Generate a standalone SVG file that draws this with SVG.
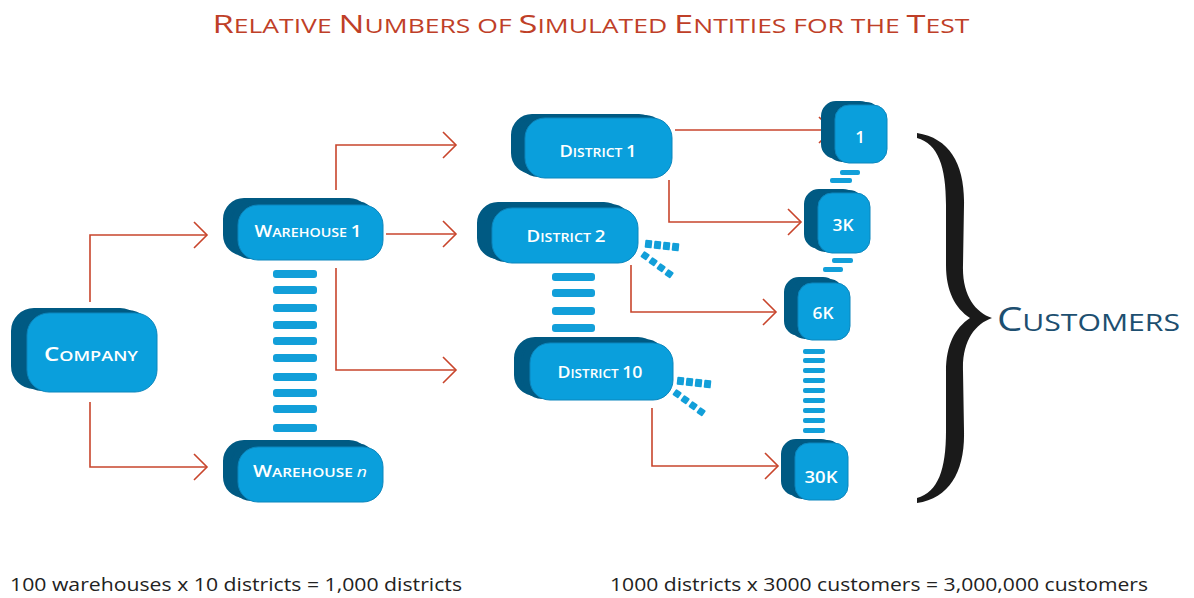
<svg xmlns="http://www.w3.org/2000/svg" width="1194" height="598" viewBox="0 0 1194 598">
<style>
.bk{fill:#005a83;stroke:#005a83;stroke-width:2}
.fr{fill:#0a9fdc;stroke:#0b86bd;stroke-width:1}
.bar{fill:#129fd9}
.lbl{font-family:"Open Sans","DejaVu Sans",sans-serif;font-weight:600;fill:#ffffff;text-anchor:middle}
.con{fill:none;stroke:#c8452c;stroke-width:1.6}
.title{font-family:"Open Sans","DejaVu Sans",sans-serif;fill:#bf3f28;font-weight:500}
.foot{font-family:"Open Sans","DejaVu Sans",sans-serif;font-size:18px;fill:#222222}
</style>
<defs>
<marker id="arr" markerWidth="16" markerHeight="30" refX="14" refY="15" orient="auto" markerUnits="userSpaceOnUse">
<path d="M1,2 L14,15 L1,28" fill="none" stroke="#c8452c" stroke-width="1.6"/>
</marker>
</defs>
<rect width="1194" height="598" fill="#ffffff"/>

<text class="title" x="591" y="33" text-anchor="middle" textLength="757" lengthAdjust="spacingAndGlyphs"><tspan font-size="26">R</tspan><tspan font-size="20">ELATIVE </tspan><tspan font-size="26">N</tspan><tspan font-size="20">UMBERS OF </tspan><tspan font-size="26">S</tspan><tspan font-size="20">IMULATED </tspan><tspan font-size="26">E</tspan><tspan font-size="20">NTITIES FOR THE </tspan><tspan font-size="26">T</tspan><tspan font-size="20">EST</tspan></text>

<g id="connectors">
<path class="con" marker-end="url(#arr)" d="M90,302 V235 H207"/>
<path class="con" marker-end="url(#arr)" d="M90,402 V467 H207"/>
<path class="con" marker-end="url(#arr)" d="M336,190 V145 H456"/>
<path class="con" marker-end="url(#arr)" d="M386,234 H456"/>
<path class="con" marker-end="url(#arr)" d="M336,268 V370 H456"/>
<path class="con" marker-end="url(#arr)" d="M675,130 H832"/>
<path class="con" marker-end="url(#arr)" d="M669,180 V222 H801"/>
<path class="con" marker-end="url(#arr)" d="M631,265 V312 H776"/>
<path class="con" marker-end="url(#arr)" d="M652,408 V466 H778"/>
</g>

<g id="company">
<rect class="bk" x="12" y="309" width="130" height="79" rx="22"/>
<rect class="bk" x="20" y="311" width="130" height="79" rx="22"/>
<rect class="fr" x="27" y="313" width="130" height="79" rx="22"/>
<text class="lbl" x="91" y="361" textLength="94" lengthAdjust="spacingAndGlyphs"><tspan font-size="20">C</tspan><tspan font-size="15">OMPANY</tspan></text>
</g>

<g id="warehouse1">
<rect class="bk" x="224" y="199" width="145" height="56" rx="20"/>
<rect class="bk" x="231" y="202" width="145" height="56" rx="20"/>
<rect class="fr" x="238" y="205" width="145" height="55" rx="20"/>
<text class="lbl" x="308" y="237" textLength="107" lengthAdjust="spacingAndGlyphs"><tspan font-size="17">W</tspan><tspan font-size="13">AREHOUSE </tspan><tspan font-size="17">1</tspan></text>
</g>

<g id="warehouse-bars">
<rect class="bar" x="273" y="270" width="44" height="8" rx="3"/>
<rect class="bar" x="273" y="286" width="44" height="8" rx="3"/>
<rect class="bar" x="273" y="304" width="44" height="8" rx="3"/>
<rect class="bar" x="273" y="321" width="44" height="8" rx="3"/>
<rect class="bar" x="273" y="337" width="44" height="8" rx="3"/>
<rect class="bar" x="273" y="354" width="44" height="8" rx="3"/>
<rect class="bar" x="273" y="373" width="44" height="8" rx="3"/>
<rect class="bar" x="273" y="389" width="44" height="8" rx="3"/>
<rect class="bar" x="273" y="405" width="44" height="8" rx="3"/>
<rect class="bar" x="273" y="424" width="44" height="8" rx="3"/>
</g>

<g id="warehouseN">
<rect class="bk" x="224" y="441" width="145" height="56" rx="20"/>
<rect class="bk" x="231" y="444" width="145" height="56" rx="20"/>
<rect class="fr" x="238" y="447" width="145" height="55" rx="20"/>
<text class="lbl" x="310" y="477" textLength="114" lengthAdjust="spacingAndGlyphs"><tspan font-size="17">W</tspan><tspan font-size="13">AREHOUSE </tspan><tspan font-size="15" font-style="italic" font-weight="400">n</tspan></text>
</g>

<g id="district1">
<rect class="bk" x="512" y="115" width="147" height="58" rx="20"/>
<rect class="bk" x="518" y="116" width="147" height="60" rx="20"/>
<rect class="fr" x="525" y="118" width="147" height="60" rx="20"/>
<text class="lbl" x="598" y="157" textLength="77" lengthAdjust="spacingAndGlyphs"><tspan font-size="17">D</tspan><tspan font-size="13">ISTRICT </tspan><tspan font-size="17">1</tspan></text>
</g>

<g id="district2">
<rect class="bk" x="478" y="203" width="146" height="55" rx="20"/>
<rect class="bk" x="485" y="205" width="146" height="56" rx="20"/>
<rect class="fr" x="492" y="208" width="146" height="55" rx="20"/>
<text class="lbl" x="566" y="242" textLength="79" lengthAdjust="spacingAndGlyphs"><tspan font-size="17">D</tspan><tspan font-size="13">ISTRICT </tspan><tspan font-size="17">2</tspan></text>
<g class="bar">
<rect x="645" y="240" width="7" height="8" rx="1" transform="rotate(6 648 244)"/>
<rect x="654" y="241" width="7" height="8" rx="1" transform="rotate(6 657 245)"/>
<rect x="663" y="242" width="7" height="8" rx="1" transform="rotate(6 666 246)"/>
<rect x="672" y="243" width="7" height="8" rx="1" transform="rotate(6 675 247)"/>
<rect x="642" y="252" width="7" height="7" rx="1" transform="rotate(35 645 255)"/>
<rect x="650" y="258" width="7" height="7" rx="1" transform="rotate(35 653 261)"/>
<rect x="658" y="264" width="7" height="7" rx="1" transform="rotate(35 661 267)"/>
<rect x="666" y="270" width="7" height="7" rx="1" transform="rotate(35 669 273)"/>
</g>
</g>

<g id="district-bars">
<rect class="bar" x="552" y="273" width="43" height="8" rx="3"/>
<rect class="bar" x="552" y="289" width="43" height="8" rx="3"/>
<rect class="bar" x="552" y="307" width="43" height="8" rx="3"/>
<rect class="bar" x="552" y="324" width="43" height="8" rx="3"/>
</g>

<g id="district10">
<rect class="bk" x="515" y="338" width="143" height="57" rx="20"/>
<rect class="bk" x="522" y="340" width="143" height="58" rx="20"/>
<rect class="fr" x="530" y="343" width="143" height="57" rx="20"/>
<text class="lbl" x="600" y="378" textLength="85" lengthAdjust="spacingAndGlyphs"><tspan font-size="17">D</tspan><tspan font-size="13">ISTRICT </tspan><tspan font-size="17">10</tspan></text>
<g class="bar">
<rect x="677" y="377" width="7" height="8" rx="1" transform="rotate(6 680 381)"/>
<rect x="686" y="378" width="7" height="8" rx="1" transform="rotate(6 689 382)"/>
<rect x="695" y="379" width="7" height="8" rx="1" transform="rotate(6 698 383)"/>
<rect x="704" y="380" width="7" height="8" rx="1" transform="rotate(6 707 384)"/>
<rect x="674" y="390" width="7" height="7" rx="1" transform="rotate(35 677 393)"/>
<rect x="682" y="396" width="7" height="7" rx="1" transform="rotate(35 685 399)"/>
<rect x="690" y="402" width="7" height="7" rx="1" transform="rotate(35 693 405)"/>
<rect x="698" y="408" width="7" height="7" rx="1" transform="rotate(35 701 411)"/>
</g>
</g>

<g id="customer1">
<rect class="bk" x="822" y="102" width="52" height="56" rx="14"/>
<rect class="bk" x="828" y="103" width="52" height="58" rx="14"/>
<rect class="fr" x="835" y="105" width="52" height="58" rx="14"/>
<text class="lbl" x="860" y="143" font-size="17">1</text>
</g>
<g id="customer-bars-1">
<rect class="bar" x="840" y="170" width="20" height="5" rx="2"/>
<rect class="bar" x="830" y="178" width="22" height="5" rx="2"/>
</g>

<g id="customer3k">
<rect class="bk" x="805" y="190" width="52" height="58" rx="14"/>
<rect class="bk" x="811" y="191" width="52" height="60" rx="14"/>
<rect class="fr" x="818" y="193" width="52" height="60" rx="14"/>
<text class="lbl" x="843" y="231" font-size="17" textLength="21" lengthAdjust="spacingAndGlyphs">3K</text>
</g>
<g id="customer-bars-2">
<rect class="bar" x="832" y="258" width="21" height="5" rx="2"/>
<rect class="bar" x="823" y="267" width="20" height="5" rx="2"/>
</g>

<g id="customer6k">
<rect class="bk" x="785" y="278" width="52" height="57" rx="14"/>
<rect class="bk" x="791" y="280" width="52" height="58" rx="14"/>
<rect class="fr" x="798" y="283" width="52" height="57" rx="14"/>
<text class="lbl" x="823" y="319" font-size="17" textLength="21" lengthAdjust="spacingAndGlyphs">6K</text>
</g>
<g id="customer-bars-3">
<rect class="bar" x="803" y="349" width="22" height="5" rx="2"/>
<rect class="bar" x="803" y="358" width="22" height="5" rx="2"/>
<rect class="bar" x="803" y="368" width="22" height="5" rx="2"/>
<rect class="bar" x="803" y="378" width="22" height="5" rx="2"/>
<rect class="bar" x="803" y="388" width="22" height="5" rx="2"/>
<rect class="bar" x="803" y="398" width="22" height="5" rx="2"/>
<rect class="bar" x="803" y="408" width="22" height="5" rx="2"/>
<rect class="bar" x="803" y="418" width="22" height="5" rx="2"/>
<rect class="bar" x="803" y="428" width="22" height="5" rx="2"/>
</g>

<g id="customer30k">
<rect class="bk" x="782" y="440" width="53" height="55" rx="14"/>
<rect class="bk" x="788" y="441" width="53" height="57" rx="14"/>
<rect class="fr" x="795" y="443" width="53" height="57" rx="14"/>
<text class="lbl" x="821" y="483" font-size="17" textLength="33" lengthAdjust="spacingAndGlyphs">30K</text>
</g>

<g id="brace">
<path fill="#1a1a1a" d="M917,133 C950,138 965,165 964,205 L963,265 C962,295 975,312 992,318 C975,324 962,341 963,371 L964,431 C965,471 950,498 917,503 L917,498 C938,492 946,470 946,431 L946,371 C946,345 955,328 970,318 C955,308 946,291 946,265 L946,205 C946,166 938,144 917,138 Z"/>
</g>

<g id="customers-label">
<text x="997" y="331" font-family="'Open Sans','DejaVu Sans',sans-serif" fill="#1d4f70" textLength="183" lengthAdjust="spacingAndGlyphs"><tspan font-size="32">C</tspan><tspan font-size="24">USTOMERS</tspan></text>
</g>

<text class="foot" x="10" y="591" textLength="452" lengthAdjust="spacingAndGlyphs">100 warehouses x 10 districts = 1,000 districts</text>
<text class="foot" x="610" y="591" textLength="538" lengthAdjust="spacingAndGlyphs">1000 districts x 3000 customers = 3,000,000 customers</text>
</svg>
